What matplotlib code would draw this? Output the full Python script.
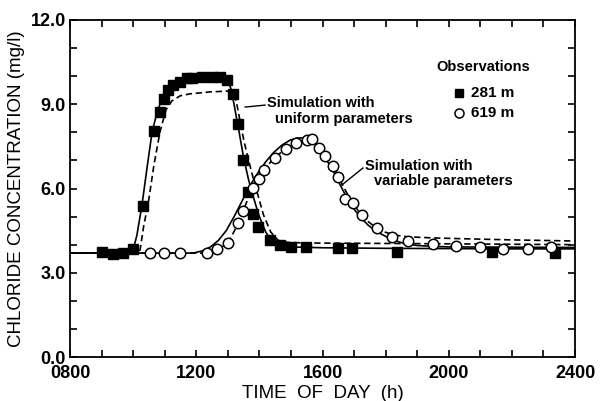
import matplotlib
matplotlib.use("Agg")
import matplotlib.pyplot as plt
from matplotlib.ticker import MultipleLocator, FixedLocator

plt.rcParams['font.family'] = ['Liberation Sans', 'DejaVu Sans']

# ---- data (time in hours of day, chloride in mg/l) ----
obs281_t = [9.01, 9.36, 9.68, 10.00, 10.31, 10.66, 10.85, 10.98, 11.11, 11.26, 11.49,
            11.71, 11.87, 12.18, 12.50, 12.75, 12.97, 13.16, 13.32, 13.48, 13.64, 13.80,
            13.96, 14.34, 14.65, 15.00, 15.48, 16.49, 16.94, 18.36, 21.37, 23.37]
obs281_c = [3.74, 3.67, 3.70, 3.85, 5.38, 8.05, 8.73, 9.19, 9.51, 9.69, 9.79,
            9.94, 9.94, 9.97, 9.97, 9.97, 9.86, 9.37, 8.30, 7.02, 5.88, 5.09,
            4.63, 4.17, 3.99, 3.92, 3.92, 3.88, 3.88, 3.74, 3.74, 3.70]

obs619_t = [10.53, 10.98, 11.49, 12.34, 12.66, 13.01, 13.32, 13.48, 13.80, 13.99, 14.15,
            14.50, 14.84, 15.16, 15.51, 15.67, 15.88, 16.08, 16.33, 16.49, 16.71, 16.97,
            17.25, 17.73, 18.20, 18.71, 19.50, 20.23, 20.99, 21.72, 22.51, 23.24]
obs619_c = [3.70, 3.70, 3.70, 3.70, 3.85, 4.06, 4.77, 5.20, 6.02, 6.34, 6.66,
            7.09, 7.40, 7.62, 7.73, 7.76, 7.44, 7.17, 6.80, 6.41, 5.62, 5.48,
            5.06, 4.61, 4.27, 4.13, 4.04, 3.97, 3.92, 3.85, 3.85, 3.92]

# simulation with variable parameters (solid)
var281_t = [8.0, 9.9, 10.0, 10.12, 10.28, 10.44, 10.60, 10.76, 10.92, 11.11, 11.33, 11.64,
            12.12, 12.59, 12.91, 13.02, 13.10, 13.18, 13.27, 13.36, 13.50, 13.66, 13.82,
            13.98, 14.20, 14.42, 14.7, 15.0, 16.0, 18.0, 20.0, 22.0, 24.0]
var281_c = [3.70, 3.70, 3.81, 4.34, 5.41, 6.73, 8.01, 8.72, 9.22, 9.54, 9.79, 9.94,
            10.0, 10.0, 9.94, 9.80, 9.55, 9.10, 8.55, 8.0, 7.1, 6.3, 5.66,
            5.06, 4.45, 4.10, 3.96, 3.92, 3.89, 3.87, 3.86, 3.85, 3.85]
var619_t = [8.0, 11.9, 12.2, 12.45, 12.7, 12.95, 13.2, 13.45, 13.7, 13.95, 14.2, 14.45,
            14.72, 14.97, 15.2, 15.45, 15.7, 15.9, 16.08, 16.25, 16.40, 16.55, 16.71,
            16.87, 17.03, 17.25, 17.44, 17.65, 17.89, 18.1, 18.30, 18.6, 19.0, 19.5,
            20.0, 22.0, 24.0]
var619_c = [3.70, 3.70, 3.78, 3.92, 4.15, 4.50, 5.00, 5.55, 6.10, 6.55, 6.95, 7.28,
            7.55, 7.72, 7.80, 7.80, 7.65, 7.40, 7.09, 6.80, 6.50, 6.15, 5.80,
            5.50, 5.22, 4.92, 4.70, 4.52, 4.36, 4.24, 4.14, 4.04, 3.97, 3.94,
            3.92, 3.91, 3.90]

# simulation with uniform parameters (dashed)
uni281_t = [8.0, 10.1, 10.22, 10.34, 10.47, 10.66, 10.85, 11.04, 11.23, 11.49, 11.80,
            12.44, 13.05, 13.15, 13.24, 13.33, 13.42, 13.52, 13.66, 13.82, 13.98, 14.13,
            14.36, 14.6, 14.9, 15.5, 17.0, 20.0, 24.0]
uni281_c = [3.70, 3.70, 3.81, 4.70, 5.41, 6.84, 8.01, 8.80, 9.12, 9.30, 9.37,
            9.44, 9.47, 9.43, 9.25, 8.75, 8.2, 7.65, 7.0, 6.3, 5.66, 5.06,
            4.45, 4.15, 4.08, 4.06, 4.05, 4.03, 4.00]
uni619_t = [8.0, 12.3, 12.6, 12.9, 13.1, 13.3, 13.5, 13.7, 13.9, 14.1, 14.4, 14.7,
            15.0, 15.3, 15.55, 15.8, 16.0, 16.2, 16.4, 16.6, 16.8, 17.0, 17.2, 17.45,
            17.7, 18.0, 18.3, 18.7, 19.5, 20.5, 22.0, 24.0]
uni619_c = [3.70, 3.70, 3.78, 3.98, 4.25, 4.70, 5.25, 5.80, 6.25, 6.60, 7.00, 7.30,
            7.52, 7.68, 7.75, 7.62, 7.38, 7.05, 6.65, 6.20, 5.78, 5.42, 5.10, 4.82,
            4.60, 4.44, 4.34, 4.28, 4.24, 4.21, 4.17, 4.13]

xtick_pos = [8, 12, 16, 20, 24]
xtick_labels = ["0800", "1200", "1600", "2000", "2400"]
ytick_pos = [0, 3, 6, 9, 12]
ytick_labels = ["0.0", "3.0", "6.0", "9.0", "12.0"]

fig = plt.figure(figsize=(6.05, 4.01), dpi=100)
ax = fig.add_axes([70/605, 44/401, 505/605, 337/401])

lw = 1.2
ax.plot(var281_t, var281_c, color='black', lw=lw, zorder=2)
ax.plot(var619_t, var619_c, color='black', lw=lw, zorder=2)
ax.plot(uni281_t, uni281_c, color='black', lw=lw, ls=(0, (3.8, 2.2)), zorder=2)
ax.plot(uni619_t, uni619_c, color='black', lw=lw, ls=(0, (3.8, 2.2)), zorder=2)

ax.plot(obs281_t, obs281_c, ls='none', marker='s', ms=6.5, mfc='black', mec='black', zorder=3)
ax.plot(obs619_t, obs619_c, ls='none', marker='o', ms=7.5, mfc='white', mec='black', mew=1.1, zorder=4)

ax.set_xlim(8, 24)
ax.set_ylim(0, 12)
ax.xaxis.set_major_locator(FixedLocator(xtick_pos))
ax.set_xticklabels(xtick_labels)
ax.yaxis.set_major_locator(FixedLocator(ytick_pos))
ax.set_yticklabels(ytick_labels)
ax.xaxis.set_minor_locator(MultipleLocator(1))
ax.yaxis.set_minor_locator(MultipleLocator(1))
ax.tick_params(which='both', direction='in', top=True, right=True, length=5, width=1.2)
ax.tick_params(axis='x', which='major', pad=6, labelsize=13)
ax.tick_params(axis='y', which='major', pad=3, labelsize=13)
for lab in ax.get_xticklabels() + ax.get_yticklabels():
    lab.set_fontweight('bold')
for s in ax.spines.values():
    s.set_linewidth(1.3)

ax.set_xlabel("TIME  OF  DAY  (h)", fontsize=13.5, labelpad=2)
ax.set_ylabel("CHLORIDE CONCENTRATION (mg/l)", fontsize=13.5, labelpad=4)

# annotations
fs = 10.5
ax.text(14.24, 8.885, "Simulation with", fontsize=fs, fontweight='bold', va='baseline', ha='left')
ax.text(14.50, 8.35, "uniform parameters", fontsize=fs, fontweight='bold', va='baseline', ha='left')
ax.plot([14.18, 13.55], [8.97, 8.90], color='black', lw=1.0)
ax.text(17.35, 6.66, "Simulation with", fontsize=fs, fontweight='bold', va='baseline', ha='left')
ax.text(17.63, 6.125, "variable parameters", fontsize=fs, fontweight='bold', va='baseline', ha='left')
ax.plot([17.28, 16.62], [6.73, 6.13], color='black', lw=1.0)

# legend
ax.text(0.818, 0.8605, "Observations", transform=ax.transAxes, fontsize=10.5,
        fontweight='bold', ha='center', va='center')
ax.plot([0.770], [0.783], transform=ax.transAxes, marker='s', ms=5.5, color='black', ls='none')
ax.text(0.794, 0.783, "281 m", transform=ax.transAxes, fontsize=11, fontweight='bold',
        ha='left', va='center')
ax.plot([0.770], [0.724], transform=ax.transAxes, marker='o', ms=6.5, mfc='white',
        mec='black', mew=1.1, ls='none')
ax.text(0.794, 0.724, "619 m", transform=ax.transAxes, fontsize=11, fontweight='bold',
        ha='left', va='center')

fig.savefig("out.png", dpi=100)
